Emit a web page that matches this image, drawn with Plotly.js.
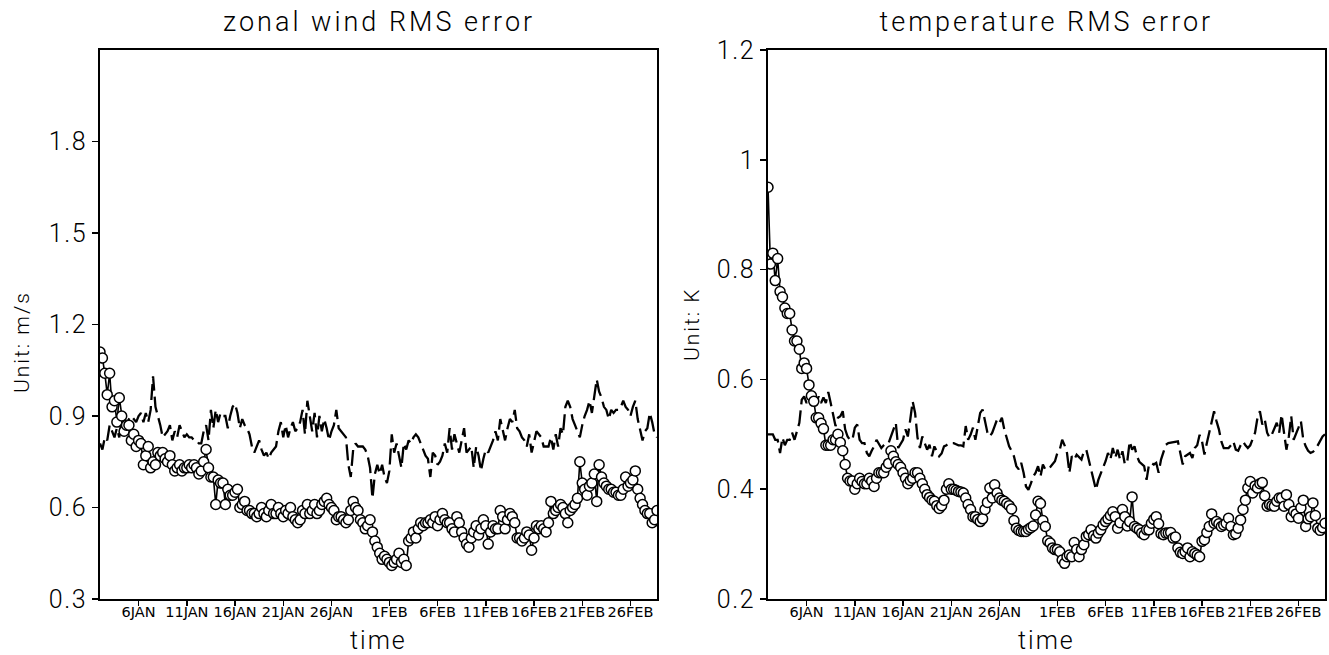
<!DOCTYPE html>
<html>
<head>
<meta charset="utf-8">
<script src="https://cdn.plot.ly/plotly-3.0.1.min.js"></script>
<style>
html,body{margin:0;padding:0;background:#fff;}
#chart{width:1329px;height:655px;}
</style>
</head>
<body>
<div id="chart"></div>
<script>
// time axis: days since 1 JAN 00Z, 6-hourly samples starting 2 JAN 00Z
const START_DAY = 1;
const STEP_DAYS = 0.25;
const tickDays = [5, 10, 15, 20, 25, 31, 36, 41, 46, 51, 56];
const tickLabels = ["6JAN", "11JAN", "16JAN", "21JAN", "26JAN", "1FEB", "6FEB", "11FEB", "16FEB", "21FEB", "26FEB"];

// zonal wind RMS error (m/s)
const windCircle = [
1.11,1.09,1.04,0.97,1.04,0.93,0.95,0.88,0.96,
0.90,0.85,0.87,0.87,0.82,0.84,0.80,0.82,0.81,
0.74,0.77,0.80,0.73,0.75,0.74,0.78,0.77,0.78,
0.76,0.75,0.77,0.74,0.72,0.73,0.74,0.72,0.73,
0.73,0.74,0.73,0.74,0.73,0.71,0.72,0.75,0.79,
0.73,0.70,0.70,0.61,0.69,0.68,0.68,0.61,0.66,0.64,
0.64,0.65,0.66,0.60,0.61,0.62,0.59,0.59,0.58,
0.58,0.57,0.58,0.60,0.58,0.57,0.59,0.61,0.58,
0.58,0.60,0.58,0.57,0.59,0.58,0.60,0.57,0.56,
0.55,0.56,0.59,0.58,0.61,0.58,0.59,0.61,0.58,
0.59,0.61,0.62,0.63,0.61,0.60,0.59,0.56,0.57,
0.57,0.56,0.55,0.56,0.59,0.62,0.60,0.59,0.56,0.55,
0.53,0.54,0.56,0.52,0.49,0.47,0.45,0.43,0.44,
0.43,0.42,0.41,0.42,0.43,0.45,0.42,0.43,0.41,
0.49,0.50,0.52,0.50,0.53,0.55,0.54,0.55,0.55,
0.56,0.55,0.57,0.54,0.56,0.58,0.56,0.55,0.55,
0.53,0.52,0.57,0.55,0.52,0.50,0.48,0.47,0.50,
0.52,0.54,0.51,0.53,0.56,0.54,0.48,0.52,0.54,0.53,
0.53,0.59,0.57,0.53,0.56,0.58,0.57,0.55,0.50,
0.50,0.49,0.50,0.52,0.51,0.46,0.50,0.54,0.53,
0.54,0.53,0.52,0.55,0.62,0.58,0.59,0.60,0.61,
0.60,0.58,0.55,0.59,0.60,0.61,0.63,0.75,0.68,
0.66,0.64,0.67,0.68,0.71,0.62,0.74,0.70,0.68,
0.67,0.66,0.66,0.65,0.65,0.64,0.64,0.66,0.70,0.67,
0.68,0.69,0.72,0.66,0.63,0.61,0.59,0.58,0.58,
0.55,0.56,0.59
];
const windDash = [
0.81,0.79,0.83,0.82,0.87,0.85,0.83,0.86,0.83,
0.89,0.88,0.87,0.89,0.90,0.89,0.88,0.90,0.91,
0.88,0.91,0.88,0.92,1.03,0.93,0.90,0.87,0.83,
0.84,0.85,0.87,0.82,0.85,0.83,0.87,0.85,0.83,
0.84,0.83,0.83,0.82,0.82,0.81,0.81,0.85,0.87,
0.82,0.92,0.86,0.92,0.88,0.91,0.90,0.90,0.86,0.90,
0.93,0.94,0.91,0.86,0.89,0.87,0.86,0.84,0.80,
0.78,0.80,0.82,0.79,0.77,0.78,0.76,0.78,0.79,
0.80,0.85,0.88,0.83,0.87,0.83,0.86,0.88,0.85,
0.86,0.88,0.92,0.84,0.95,0.90,0.85,0.91,0.83,
0.90,0.85,0.89,0.86,0.82,0.85,0.87,0.92,0.86,
0.85,0.84,0.83,0.74,0.70,0.79,0.81,0.80,0.80,0.80,
0.79,0.77,0.73,0.63,0.71,0.74,0.71,0.74,0.70,
0.68,0.72,0.84,0.78,0.81,0.77,0.73,0.81,0.79,
0.82,0.81,0.83,0.84,0.83,0.81,0.79,0.77,0.76,
0.70,0.78,0.77,0.74,0.75,0.77,0.81,0.78,0.86,
0.79,0.84,0.81,0.78,0.82,0.86,0.78,0.79,0.80,
0.73,0.80,0.77,0.72,0.76,0.79,0.78,0.80,0.82,0.85,
0.82,0.89,0.85,0.82,0.86,0.89,0.88,0.92,0.86,
0.85,0.83,0.82,0.80,0.84,0.78,0.82,0.85,0.84,
0.83,0.80,0.80,0.80,0.83,0.79,0.84,0.80,0.86,
0.84,0.93,0.95,0.93,0.89,0.87,0.85,0.83,0.87,
0.90,0.92,0.95,0.91,0.96,1.02,0.98,0.96,0.93,
0.92,0.89,0.92,0.91,0.92,0.92,0.93,0.95,0.93,0.92,
0.90,0.93,0.95,0.89,0.85,0.82,0.85,0.86,0.91,
0.88,0.84,0.83
];

// temperature RMS error (K)
const tempCircle = [
0.95,0.81,0.83,0.78,0.82,0.76,0.75,0.73,0.72,0.72,
0.69,0.67,0.67,0.655,0.62,0.63,0.62,0.59,0.57,0.56,
0.53,0.53,0.52,0.51,0.48,0.48,0.48,0.49,0.49,0.50,
0.485,0.47,0.445,0.42,0.415,0.415,0.40,0.41,0.42,0.414,
0.41,0.41,0.42,0.415,0.405,0.42,0.43,0.43,0.43,0.44,
0.447,0.47,0.46,0.45,0.445,0.44,0.43,0.42,0.41,0.416,
0.42,0.43,0.43,0.42,0.41,0.40,0.39,0.385,0.38,0.378,
0.37,0.365,0.37,0.38,0.40,0.41,0.40,0.40,0.398,0.396,
0.395,0.393,0.384,0.372,0.363,0.35,0.35,0.345,0.341,0.346,
0.363,0.376,0.402,0.384,0.408,0.393,0.384,0.38,0.378,0.374,
0.37,0.364,0.343,0.329,0.325,0.323,0.323,0.323,0.327,0.33,
0.333,0.353,0.378,0.374,0.343,0.332,0.306,0.302,0.293,0.29,
0.29,0.286,0.271,0.265,0.277,0.28,0.277,0.303,0.29,0.277,
0.29,0.299,0.314,0.317,0.326,0.315,0.311,0.32,0.326,0.335,
0.341,0.346,0.352,0.359,0.35,0.329,0.339,0.363,0.35,0.333,
0.341,0.386,0.332,0.329,0.326,0.32,0.317,0.326,0.326,0.338,
0.345,0.35,0.337,0.319,0.317,0.32,0.32,0.321,0.311,0.313,
0.293,0.285,0.283,0.286,0.293,0.277,0.286,0.283,0.28,0.277,
0.305,0.308,0.321,0.332,0.355,0.338,0.341,0.337,0.332,0.335,
0.338,0.347,0.332,0.317,0.319,0.329,0.344,0.363,0.38,0.402,
0.414,0.393,0.406,0.402,0.41,0.412,0.388,0.369,0.372,0.37,
0.369,0.378,0.384,0.384,0.369,0.39,0.372,0.35,0.36,0.355,
0.347,0.366,0.38,0.332,0.346,0.35,0.375,0.352,0.329,0.325,
0.33,0.338
];
const tempDash = [
0.50,0.50,0.50,0.49,0.49,0.466,0.494,0.48,0.49,0.49,
0.503,0.49,0.506,0.521,0.563,0.569,0.557,0.567,0.554,0.576,
0.557,0.569,0.557,0.567,0.557,0.577,0.557,0.536,0.515,0.53,
0.533,0.542,0.509,0.496,0.49,0.49,0.512,0.518,0.49,0.484,
0.484,0.466,0.46,0.47,0.478,0.49,0.481,0.475,0.48,0.484,
0.484,0.496,0.51,0.521,0.475,0.484,0.49,0.509,0.496,0.527,
0.56,0.539,0.494,0.475,0.496,0.484,0.472,0.481,0.46,0.478,
0.469,0.46,0.465,0.478,0.48,0.484,0.484,0.484,0.482,0.48,
0.48,0.478,0.515,0.49,0.499,0.512,0.49,0.515,0.539,0.545,
0.521,0.503,0.496,0.503,0.515,0.527,0.521,0.53,0.509,0.495,
0.478,0.47,0.46,0.442,0.436,0.448,0.43,0.405,0.399,0.41,
0.423,0.43,0.442,0.423,0.445,0.436,0.436,0.44,0.445,0.451,
0.466,0.472,0.49,0.48,0.466,0.43,0.46,0.454,0.463,0.458,
0.454,0.469,0.472,0.454,0.436,0.414,0.399,0.417,0.43,0.44,
0.451,0.466,0.454,0.475,0.457,0.472,0.454,0.469,0.445,0.451,
0.487,0.472,0.478,0.46,0.45,0.445,0.442,0.417,0.445,0.448,
0.445,0.448,0.43,0.454,0.469,0.481,0.484,0.485,0.486,0.487,
0.487,0.466,0.445,0.46,0.463,0.466,0.457,0.475,0.48,0.499,
0.487,0.463,0.484,0.503,0.52,0.542,0.524,0.509,0.487,0.475,
0.475,0.475,0.48,0.487,0.472,0.47,0.48,0.487,0.48,0.475,
0.48,0.49,0.503,0.53,0.542,0.518,0.527,0.503,0.494,0.50,
0.512,0.521,0.503,0.536,0.503,0.472,0.496,0.533,0.49,0.50,
0.512,0.524,0.49,0.478,0.47,0.466,0.468,0.472,0.48,0.49,
0.496,0.50
];

function times(n){ const t=[]; for(let i=0;i<n;i++) t.push(START_DAY + STEP_DAYS*i); return t; }

const FONT = "Roboto, DejaVu Sans, sans-serif";
const TW = 300;
const dashStyle = {color:"#000", width:2.3, dash:"16px,6px"};
const circleLine = {color:"#000", width:1.6};
const circleMarker = {symbol:"circle", size:10, color:"#fff", line:{color:"#000", width:1.5}};

const traces = [
  {x: times(windDash.length), y: windDash, type:"scatter", mode:"lines", line: dashStyle, xaxis:"x", yaxis:"y", hoverinfo:"skip"},
  {x: times(windCircle.length), y: windCircle, type:"scatter", mode:"lines+markers", line: circleLine, marker: circleMarker, xaxis:"x", yaxis:"y", hoverinfo:"skip"},
  {x: times(tempDash.length), y: tempDash, type:"scatter", mode:"lines", line: dashStyle, xaxis:"x2", yaxis:"y2", hoverinfo:"skip"},
  {x: times(tempCircle.length), y: tempCircle, type:"scatter", mode:"lines+markers", line: circleLine, marker: circleMarker, xaxis:"x2", yaxis:"y2", hoverinfo:"skip"}
];

const W = 1329, H = 655;
const xAxisBase = {
  range:[1, 58.75], tickmode:"array", tickvals: tickDays, ticktext: tickLabels,
  ticks:"outside", ticklen:5, tickwidth:1.5, tickcolor:"#000",
  showline:true, linecolor:"#000", linewidth:2, mirror:true,
  showgrid:false, zeroline:false, ticklabelstandoff:-6,
  tickfont:{family:"DejaVu Sans, sans-serif", size:14.5, color:"#000"}
};
const yAxisBase = {
  tickmode:"array", ticks:"outside", ticklen:6, tickwidth:1.5, tickcolor:"#000",
  showline:true, linecolor:"#000", linewidth:2, mirror:true,
  showgrid:false, zeroline:false,
  tickfont:{family:FONT, size:25, color:"#000", weight:TW}
};
const yDom = [1-599/H, 1-50/H];

const layout = {
  width:W, height:H, margin:{l:0,r:0,t:0,b:0},
  paper_bgcolor:"#fff", plot_bgcolor:"#fff", showlegend:false,
  xaxis: Object.assign({}, xAxisBase, {domain:[100/W, 657/W], anchor:"y"}),
  yaxis: Object.assign({}, yAxisBase, {domain:yDom, anchor:"x", range:[0.3, 2.1],
    tickvals:[0.3,0.6,0.9,1.2,1.5,1.8], ticktext:["0.3","0.6","0.9","1.2","1.5","1.8"]}),
  xaxis2: Object.assign({}, xAxisBase, {domain:[768/W, 1325/W], anchor:"y2"}),
  yaxis2: Object.assign({}, yAxisBase, {domain:yDom, anchor:"x2", range:[0.2, 1.2],
    tickvals:[0.2,0.4,0.6,0.8,1.0,1.2], ticktext:["0.2","0.4","0.6","0.8","1","1.2"]}),
  annotations:[
    {text:"zonal wind RMS error", xref:"x domain", yref:"paper", x:0.5, y:1-22/H, xanchor:"center", yanchor:"middle", showarrow:false, font:{family:FONT, size:27, color:"#000", weight:TW}},
    {text:"temperature RMS error", xref:"x2 domain", yref:"paper", x:0.5, y:1-22/H, xanchor:"center", yanchor:"middle", showarrow:false, font:{family:FONT, size:27, color:"#000", weight:TW}},
    {text:"time", xref:"x domain", yref:"paper", x:0.5, y:1-640/H, xanchor:"center", yanchor:"middle", showarrow:false, font:{family:FONT, size:25, color:"#000", weight:TW}},
    {text:"time", xref:"x2 domain", yref:"paper", x:0.5, y:1-640/H, xanchor:"center", yanchor:"middle", showarrow:false, font:{family:FONT, size:25, color:"#000", weight:TW}},
    {text:"Unit: m/s", xref:"paper", yref:"paper", x:22/W, y:1-342/H, xanchor:"center", yanchor:"middle", textangle:-90, showarrow:false, font:{family:FONT, size:21, color:"#000", weight:TW}},
    {text:"Unit: K", xref:"paper", yref:"paper", x:692/W, y:1-324/H, xanchor:"center", yanchor:"middle", textangle:-90, showarrow:false, font:{family:FONT, size:21, color:"#000", weight:TW}}
  ]
};

Plotly.newPlot("chart", traces, layout, {staticPlot:true, displayModeBar:false}).then(function(){
  // Hershey-style wide letter spacing for the titles and axis labels
  document.querySelectorAll(".annotation-text").forEach(function(el){
    const t = el.textContent;
    if (t.indexOf("RMS") >= 0) el.style.letterSpacing = "3px";
    else el.style.letterSpacing = "2px";
  });
  document.querySelectorAll(".ytick text, .y2tick text").forEach(function(el){
    el.style.letterSpacing = "1.5px";
  });
});
</script>
</body>
</html>
